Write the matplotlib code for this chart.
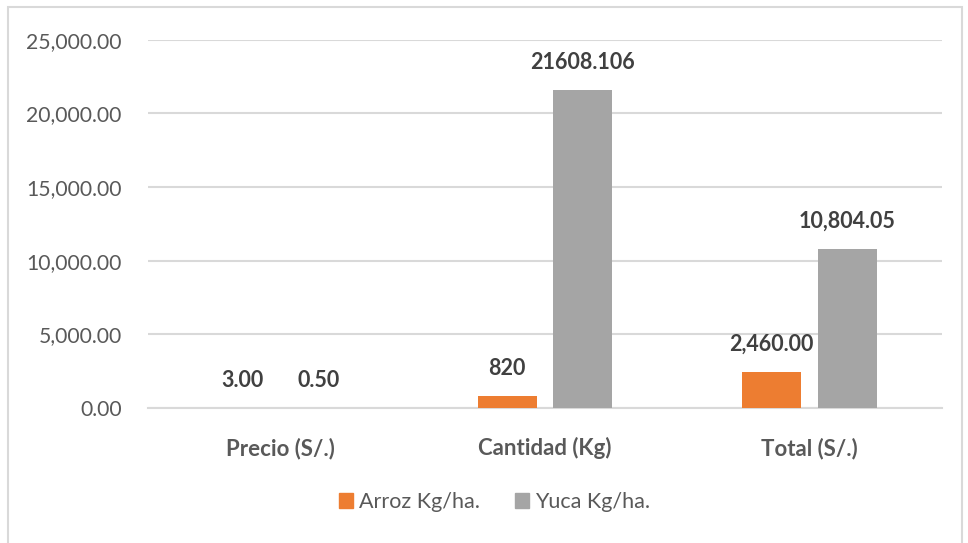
import numpy as np
import matplotlib.pyplot as plt
from matplotlib.patches import Rectangle
from matplotlib.ticker import FuncFormatter

plt.rcParams['font.family'] = ['Lato', 'DejaVu Sans']

# Datos
categorias = ['Precio (S/.)', 'Cantidad (Kg)', 'Total (S/.)']
arroz = [3.00, 820, 2460.00]
yuca = [0.50, 21608.106, 10804.05]
fmt_arroz = ['{:,.2f}', '{:.0f}', '{:,.2f}']
fmt_yuca = ['{:,.2f}', '{:.3f}', '{:,.2f}']

naranja = '#ED7D31'
gris = '#A5A5A5'

fig = plt.figure(figsize=(9.68, 5.43), dpi=100)
ax = fig.add_axes([0.153, 0.2486, 0.820, 0.678])

x = np.arange(len(categorias))
ancho = 0.223
desp = 0.143
b1 = ax.bar(x - desp, arroz, ancho, color=naranja, zorder=3)
b2 = ax.bar(x + desp, yuca, ancho, color=gris, zorder=3)

for barras, fmts in ((b1, fmt_arroz), (b2, fmt_yuca)):
    for b, f in zip(barras, fmts):
        v = b.get_height()
        ax.annotate(f.format(v), (b.get_x() + b.get_width() / 2, v),
                    xytext=(0, 20), textcoords='offset points',
                    ha='center', va='center', fontsize=15.5,
                    fontweight='bold', color='#404040')

ax.set_xlim(-0.5, 2.5)
ax.set_ylim(0, 25000)
ax.set_yticks(np.arange(0, 25001, 5000))
ax.yaxis.set_major_formatter(FuncFormatter(lambda v, p: f'{v:,.2f}'))
ax.set_xticks(x)
ax.set_xticklabels(categorias, fontweight='bold')
ax.tick_params(axis='y', length=0, pad=19, labelsize=15.2, labelcolor='#595959')
ax.tick_params(axis='x', length=0, pad=21, labelsize=16, labelcolor='#595959')
ax.grid(axis='y', color='#d9d9d9', linewidth=1.5, zorder=0)
for s in ['top', 'right', 'left']:
    ax.spines[s].set_visible(False)
ax.spines['bottom'].set_color('#d9d9d9')
ax.spines['bottom'].set_linewidth(1.5)

h1 = Rectangle((0, 0), 1, 1, color=naranja)
h2 = Rectangle((0, 0), 1, 1, color=gris)
fig.legend([h1, h2], ['Arroz Kg/ha.', 'Yuca Kg/ha.'], loc='center',
           bbox_to_anchor=(0.511, 0.075), ncol=2, frameon=False,
           fontsize=15.5, handlelength=0.65, handleheight=0.7,
           handletextpad=0.3, columnspacing=1.6, labelcolor='#595959')

# borde del gráfico
fig.patches.append(Rectangle((8 / 968, -0.05), 954 / 968, 1 - 7 / 543 + 0.05,
                             transform=fig.transFigure, fill=False,
                             edgecolor='#d9d9d9', linewidth=1.5))

fig.savefig('out.png', dpi=100)
